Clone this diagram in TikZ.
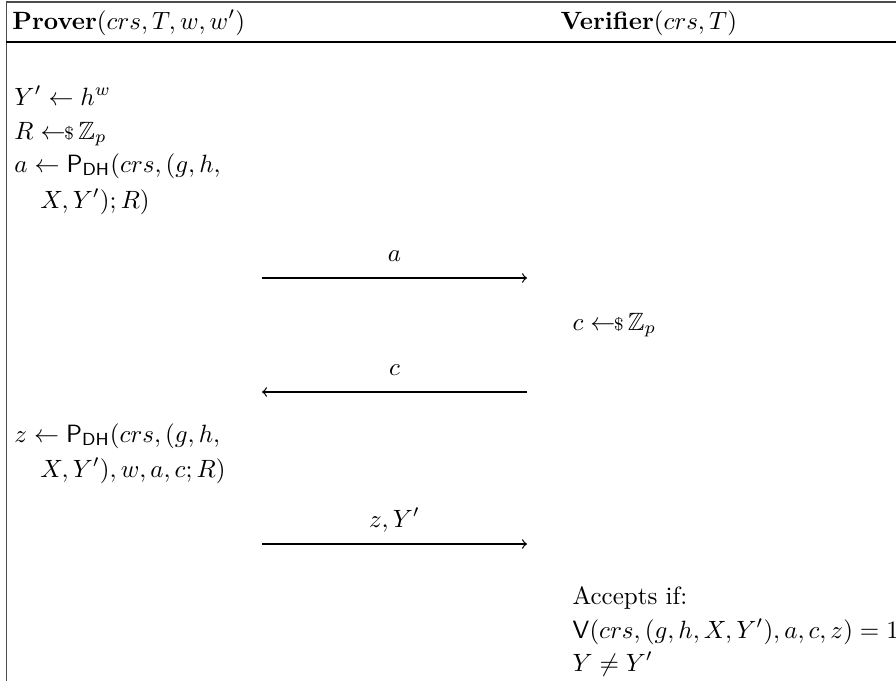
\documentclass[tikz,border=0pt]{standalone}
\usepackage{amsmath,amssymb}
\newcommand{\smp}{\leftarrow\!\!\mbox{\scriptsize\$}\,}
\newcommand{\PDH}{\mathsf{P}_{\mathsf{DH}}}
\begin{document}
\begin{tikzpicture}[x=0.4pt,y=-0.4pt,
  txt/.style={anchor=base west,inner sep=0pt},
  lbl/.style={midway,anchor=base,inner sep=0pt,yshift=6.8pt},
  msg/.style={line width=0.5pt},
  frame/.style={line width=0.7pt}]
\useasboundingbox (0,0) rectangle (896,681);
\coordinate (tl) at (6.5,2); \coordinate (tr) at (896,2); \coordinate (bl) at (6.5,681);
\coordinate (hl) at (6.5,42); \coordinate (hr) at (896,42);
\draw[frame,black!70] (tr) -- (tl) -- (bl);
\draw[frame] (hl) -- (hr);
\node[txt] (ph) at (12,29) {$\textbf{Prover}(crs,T,w,w')$};
\node[txt] (vh) at (560,29) {$\textbf{Verifier}(crs,T)$};
\node[txt] (l1) at (14,105) {$Y' \leftarrow h^w$};
\node[txt] (l2) at (14,139) {$R \smp \mathbb{Z}_p$};
\node[txt] (l3) at (14,172) {$a \leftarrow \PDH(crs,(g,h,$};
\node[txt] (l4) at (40,208) {$X,Y');R)$};
\coordinate (a1) at (262,278); \coordinate (a2) at (527,278);
\draw[msg,->] (a1) -- node[lbl] (la) {$a$} (a2);
\node[txt] (r1) at (572,330) {$c \smp \mathbb{Z}_p$};
\coordinate (c1) at (527,392); \coordinate (c2) at (262,392);
\draw[msg,->] (c1) -- node[lbl] (lc) {$c$} (c2);
\node[txt] (l5) at (14,442) {$z \leftarrow \PDH(crs,(g,h,$};
\node[txt] (l6) at (40,477) {$X,Y'),w,a,c;R)$};
\coordinate (z1) at (262,544); \coordinate (z2) at (527,544);
\draw[msg,->] (z1) -- node[lbl] (lz) {$z,Y'$} (z2);
\node[txt] (r2) at (572,604) {Accepts if:};
\node[txt] (r3) at (572,638) {$\mathsf{V}(crs,(g,h,X,Y'),a,c,z)=1$};
\node[txt] (r4) at (572,671) {$Y\neq Y'$};
\end{tikzpicture}
\end{document}
